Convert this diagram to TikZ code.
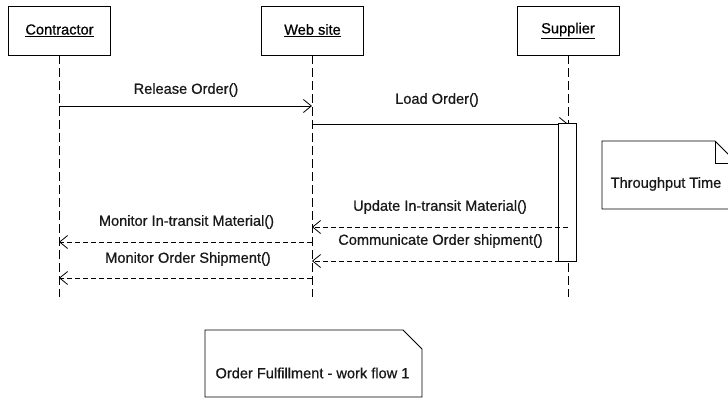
\documentclass[tikz,border=0pt]{standalone}
\usepackage{fontspec}
\setmainfont{Liberation Sans}[FakeBold=0.7]
\usetikzlibrary{arrows.meta}
\begin{document}
\begin{tikzpicture}[x=1pt,y=-1pt,
  txt/.style={font=\fontsize{14.6}{17}\selectfont, inner sep=0pt, text=black!90},
  actor/.style={draw, line width=0.8pt, minimum width=102pt, minimum height=49pt, inner sep=0pt, font=\fontsize{14.6}{17}\selectfont},
  lifeline/.style={line width=0.9pt, dash pattern=on 9pt off 4pt},
  msg/.style={line width=0.75pt, -{Straight Barb[length=8pt,width=13pt,line width=0.8pt]}},
  ret/.style={msg, dash pattern=on 5pt off 3pt},
  notebox/.style={draw, line width=0.75pt},
  actbox/.style={draw, fill=white, line width=0.8pt, minimum width=18pt, minimum height=138pt, inner sep=0pt}
]
\useasboundingbox (0,0) rectangle (728,400);

% actors
\node[actor] (con) at (59.5,30.5) {\underline{Contractor}};
\node[actor] (web) at (312.5,30.5) {\underline{Web site}};
\node[actor] (sup) at (568,30.5) {\underline{Supplier}};

% lifeline ends
\coordinate (conEnd) at (59,297);
\coordinate (webEnd) at (312,297);
\coordinate (supEnd) at (568,297);
\draw[lifeline] (con.south -| conEnd) -- (conEnd);
\draw[lifeline] (web.south -| webEnd) -- (webEnd);
\draw[lifeline] (sup.south -| supEnd) -- (supEnd);

% message end points
\coordinate (m1a) at (59,106);  \coordinate (m1b) at (312,106);
\coordinate (m2a) at (312,124); \coordinate (m2b) at (568,124);
\coordinate (m3a) at (568,227); \coordinate (m3b) at (312,227);
\coordinate (m4a) at (568,261); \coordinate (m4b) at (312,261);
\coordinate (m5a) at (312,242); \coordinate (m5b) at (59,242);
\coordinate (m6a) at (312,278); \coordinate (m6b) at (59,278);

% Release Order
\draw[msg] (m1a) -- (m1b);
\node[txt] (l1) at (186,90) {Release Order()};

% Load Order
\draw[msg] (m2a) -- (m2b);
\node[txt] (l2) at (437,100) {Load Order()};

% activation
\node[actbox] (act) at (567.5,192) {};

% returns
\draw[ret] (m3a) -- (m3b);
\node[txt] (l3) at (440,207) {Update In-transit Material()};
\draw[ret] (m4a) -- (m4b);
\node[txt] (l4) at (440.5,241) {Communicate Order shipment()};
\draw[ret] (m5a) -- (m5b);
\node[txt] (l5) at (186.5,222) {Monitor In-transit Material()};
\draw[ret] (m6a) -- (m6b);
\node[txt] (l6) at (188,259) {Monitor Order Shipment()};

% notes
\draw[notebox] (602,141) -- (715,141) -- (736,162) -- (736,209) -- (602,209) -- cycle;
\draw[notebox] (715,141) -- (715,163) -- (736,163);
\node[txt] (n1) at (666,184) {Throughput Time};

\draw[notebox] (205,330) -- (403,330) -- (422,349) -- (422,397) -- (205,397) -- cycle;
\node[txt] (n2) at (312.5,373) {Order Fulfillment - work flow 1};
\end{tikzpicture}
\end{document}
